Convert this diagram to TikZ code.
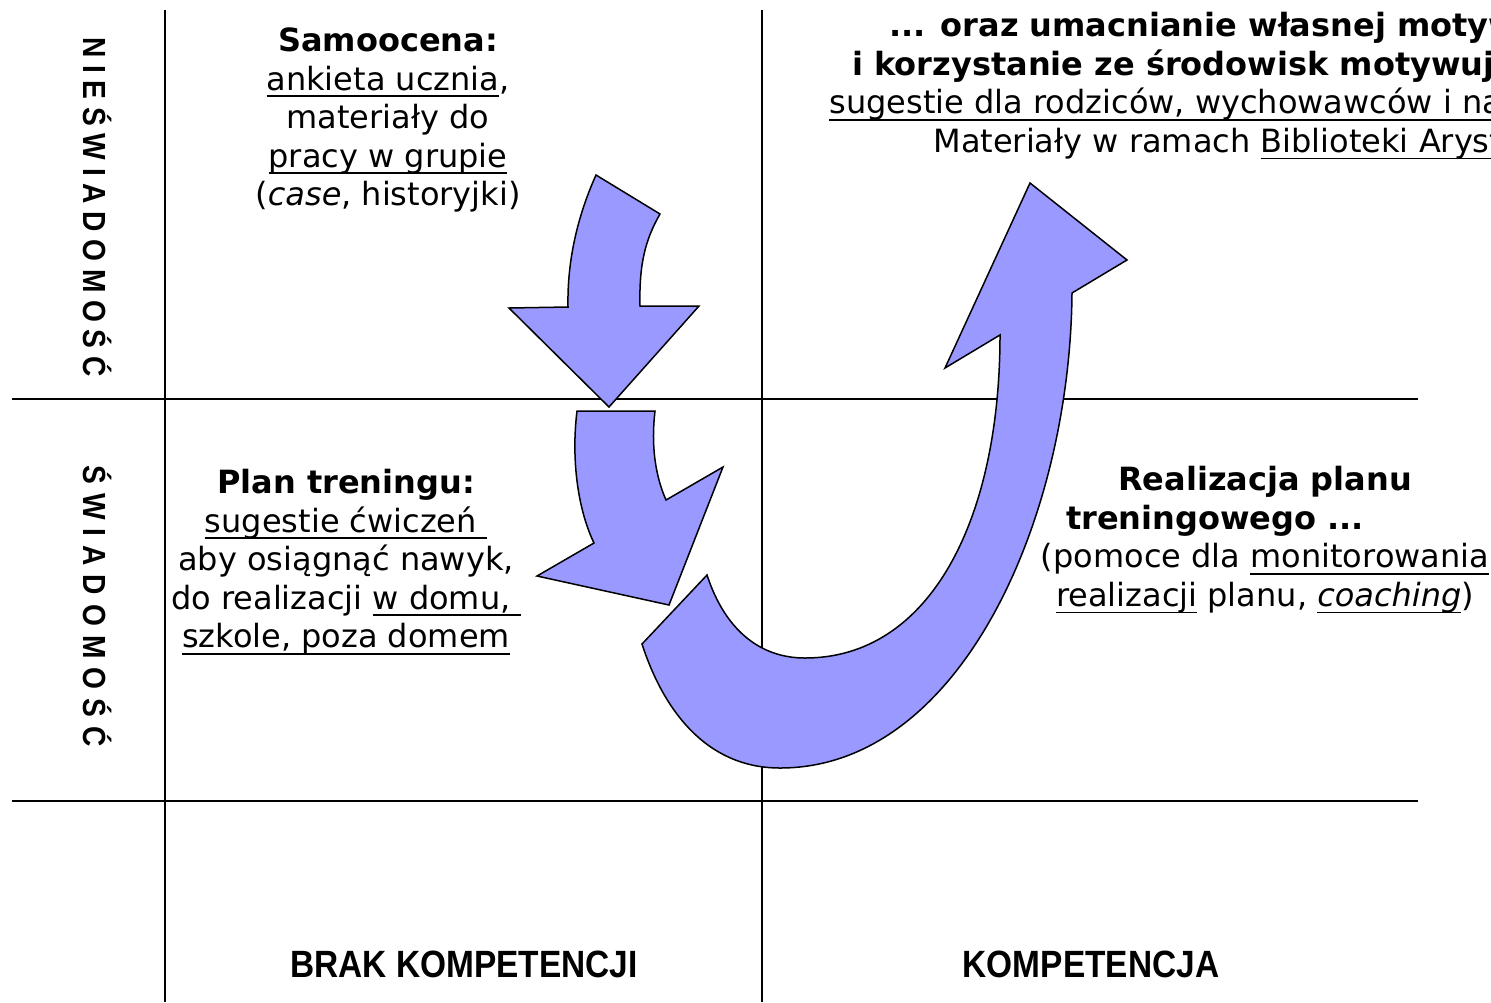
\documentclass[tikz,border=0pt]{standalone}
\usepackage{fontspec}
\setmainfont{DejaVu Sans}
\newfontfamily\narrowfont[FakeStretch=0.88]{Liberation Sans}
\definecolor{arrowblue}{RGB}{153,153,255}
\newcommand{\ulined}[1]{\setbox0\hbox{#1}\rlap{\vrule height -2.6pt depth 3.5pt width \wd0}\box0\relax}

\begin{document}
\begin{tikzpicture}
    [x=0.5pt,y=-0.5pt,
     gridline/.style={line width=1pt},
     txt/.style={align=center,inner sep=0pt,font=\fontsize{16}{19.25}\selectfont},
     sidelabel/.style={rotate=-90,inner sep=0pt,font=\narrowfont\bfseries\fontsize{16}{16}\selectfont\addfontfeature{LetterSpace=#1}},
     footlabel/.style={inner sep=0pt,font=\narrowfont\bfseries\fontsize{19}{19}\selectfont},
     bigarrow/.style={fill=arrowblue,draw=black,line width=0.75pt,line join=miter}]

    \useasboundingbox (0,0) rectangle (1491,1002);

    \foreach \x in {165,762}
      \draw[gridline] (\x,10) -- (\x,1002);
    \foreach \y in {399,801}
      \draw[gridline] (12,\y) -- (1418,\y);

    % axis labels
    \node[sidelabel=24] (nieswiadomosc) at (98,207) {NIEŚWIADOMOŚĆ};
    \node[sidelabel=28] (swiadomosc) at (98,606) {ŚWIADOMOŚĆ};
    \node[footlabel] (brak) at (464,964) {BRAK KOMPETENCJI};
    \node[footlabel] (kompetencja) at (1091,964) {KOMPETENCJA};

    % quadrant texts
    \node[txt] (samoocena) at (388,120)
      {\textbf{Samoocena:}\\ \ulined{ankieta ucznia},\\ materiały do\\ \ulined{pracy w grupie}\\ (\textit{case}, historyjki)};
    \node[txt] (plan) at (346,562)
      {\textbf{Plan treningu:}\\ \ulined{sugestie ćwiczeń\ }\\ aby osiągnąć nawyk,\\ do realizacji \ulined{w domu,\ }\\ \ulined{szkole, poza domem}};
    \node[txt] (realizacja) at (1265,540)
      {\textbf{Realizacja planu}\\ \textbf{treningowego ...}\hspace*{50pt}\mbox{}\\ (pomoce dla \ulined{monitorowania}\\ \ulined{realizacji} planu, \ulined{\textit{coaching}})};
    \node[txt,anchor=west,align=left] (motywacja) at (829,86)
      {\hspace*{30pt}\textbf{... oraz umacnianie własnej motyw}\\ \hspace*{11.5pt}\textbf{i korzystanie ze środowisk motywuj}\\ \ulined{sugestie dla rodziców, wychowawców i na}\\ \hspace*{52pt}Materiały w ramach \ulined{Biblioteki Aryst}};

    % arrows
    \draw[bigarrow] (596,175) -- (660,214) .. controls (645,240) and (639,265) .. (640,306)
      -- (699,306) -- (609,407) -- (509,308) -- (568,307)
      .. controls (567,260) and (578,215) .. (596,175) -- cycle;
    \draw[bigarrow] (577,411) -- (655,411) .. controls (651,445) and (655,475) .. (666,500)
      -- (723,467) -- (669,605) -- (537,576) -- (594,543)
      .. controls (578,510) and (571,460) .. (577,411) -- cycle;
    \draw[bigarrow] (642,644) -- (707,575) .. controls (725,630) and (760,658) .. (805,658)
      .. controls (930,658) and (1000,520) .. (1000,335)
      -- (945,368) -- (1030,183) -- (1127,260) -- (1072,293)
      .. controls (1070,520) and (960,768) .. (780,768)
      .. controls (700,768) and (660,700) .. (642,644) -- cycle;
  \end{tikzpicture}
\end{document}
